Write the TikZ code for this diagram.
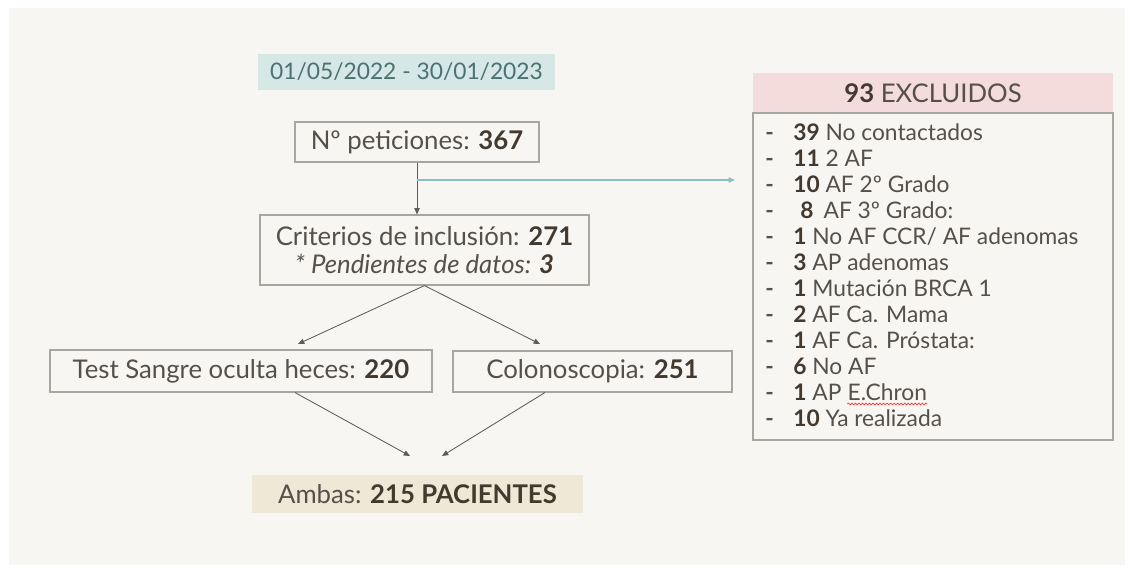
\documentclass[tikz,border=0pt]{standalone}
\usepackage{fontspec}
\setmainfont{Lato}
\usetikzlibrary{arrows.meta,positioning,decorations.pathmorphing}

\definecolor{txtgray}{HTML}{55504A}
\definecolor{numbrown}{HTML}{43392F}
\definecolor{boxgray}{HTML}{A9A6A2}
\definecolor{arrowgray}{HTML}{5E5B58}
\definecolor{panelbg}{HTML}{F7F6F3}
\definecolor{datefill}{HTML}{D5E8E6}
\definecolor{datetxt}{HTML}{4D7070}
\definecolor{exfill}{HTML}{F3DCDB}
\definecolor{ambasfill}{HTML}{EFE8D7}
\definecolor{tealline}{HTML}{8DBEBE}

\newcommand{\cnt}[1]{{\bfseries\color{numbrown}#1}}

\begin{document}
\begin{tikzpicture}[x=0.025cm,y=-0.025cm,>={Triangle[length=4.5pt,width=3.8pt]},
  every node/.style={text=txtgray,font=\fontsize{18.3}{20}\selectfont},
  box/.style={draw=boxgray,line width=0.8pt,inner sep=0pt},
  flow/.style={->,draw=arrowgray,line width=0.6pt},
  branch/.style={->,draw=tealline,line width=0.8pt},
  listtxt/.style={anchor=base west,inner sep=0pt,font=\fontsize{16.2}{18}\selectfont}]
\useasboundingbox (0,0) rectangle (1133,572);
\fill[white] (0,0) rectangle (1133,572);
\fill[panelbg] (9,8) rectangle (1125,565);

% left column
\node (date) [fill=datefill,text=datetxt,minimum width=7.425cm,minimum height=0.9cm,
  font=\fontsize{16.2}{20}\selectfont] at (406.5,72) {01/05/2022 - 30/01/2023};
\node (pet) [box,minimum width=6.1cm,minimum height=1cm] at (417,142) {Nº peticiones: \cnt{367}};
\node (crit) [box,align=center,minimum width=8.225cm,minimum height=1.75cm] at (424.5,250)
  {Criterios de inclusión: \cnt{271}\\ \textit{* Pendientes de datos: \cnt{3}}};
\node (sangre) [box,minimum width=9.55cm,minimum height=1.05cm] at (241,371)
  {Test Sangre oculta heces: \cnt{220}};
\node (colo) [box,minimum width=6.975cm,minimum height=1.025cm] at (592.5,371.5)
  {Colonoscopia: \cnt{251}};
\node (ambas) [fill=ambasfill,minimum width=8.275cm,minimum height=0.95cm] at (417.5,494)
  {Ambas: \cnt{215 PACIENTES}};

% excluded
\node (exhead) [fill=exfill,minimum width=9cm,minimum height=1cm] at (933,93)
  {\cnt{93} EXCLUIDOS};
\node (exbody) [box,minimum width=9cm,minimum height=8.175cm] at (933,276.5) {};
\foreach \n/\t [count=\i from 0] in {39/No contactados,11/2 AF,10/AF 2º Grado,
    {\hspace{5pt}8}/{\hspace{3pt}AF 3º Grado:},1/{No AF CCR/ AF adenomas},3/AP adenomas,
    1/Mutación BRCA 1,2/AF Ca. Mama,1/AF Ca. Próstata:,6/No AF,1/AP,10/Ya realizada}{
  \node (dash\i) [listtxt] at (765,140+26*\i) {\textbf{-}};
  \node (it\i) [listtxt] at (793,140+26*\i) {\cnt{\n} \t};
}
\node (echron) [listtxt,right=4pt of it10.base east,anchor=base west] {E.Chron};
\draw[red!80,line width=0.5pt,decorate,decoration={snake,amplitude=0.6pt,segment length=2.5pt}]
  ([yshift=-2.5pt]echron.south west) -- ([yshift=-2.5pt]echron.south east);

% connectors
\coordinate (exarr) at (735,180);
\coordinate (tipl) at (298,344);
\coordinate (tipr) at (540,344);
\coordinate (tipa) at (410,456);
\coordinate (tipb) at (442,456);
\draw[flow] (pet.south) -- (pet.south |- crit.north);
\draw[branch] (pet.south |- exarr) -- (exarr);
\draw[flow] (crit.south) -- (tipl);
\draw[flow] (crit.south) -- (tipr);
\draw[flow] ([xshift=1.35cm]sangre.south) -- (tipa);
\draw[flow] ([xshift=-1.19cm]colo.south) -- (tipb);
\end{tikzpicture}
\end{document}
